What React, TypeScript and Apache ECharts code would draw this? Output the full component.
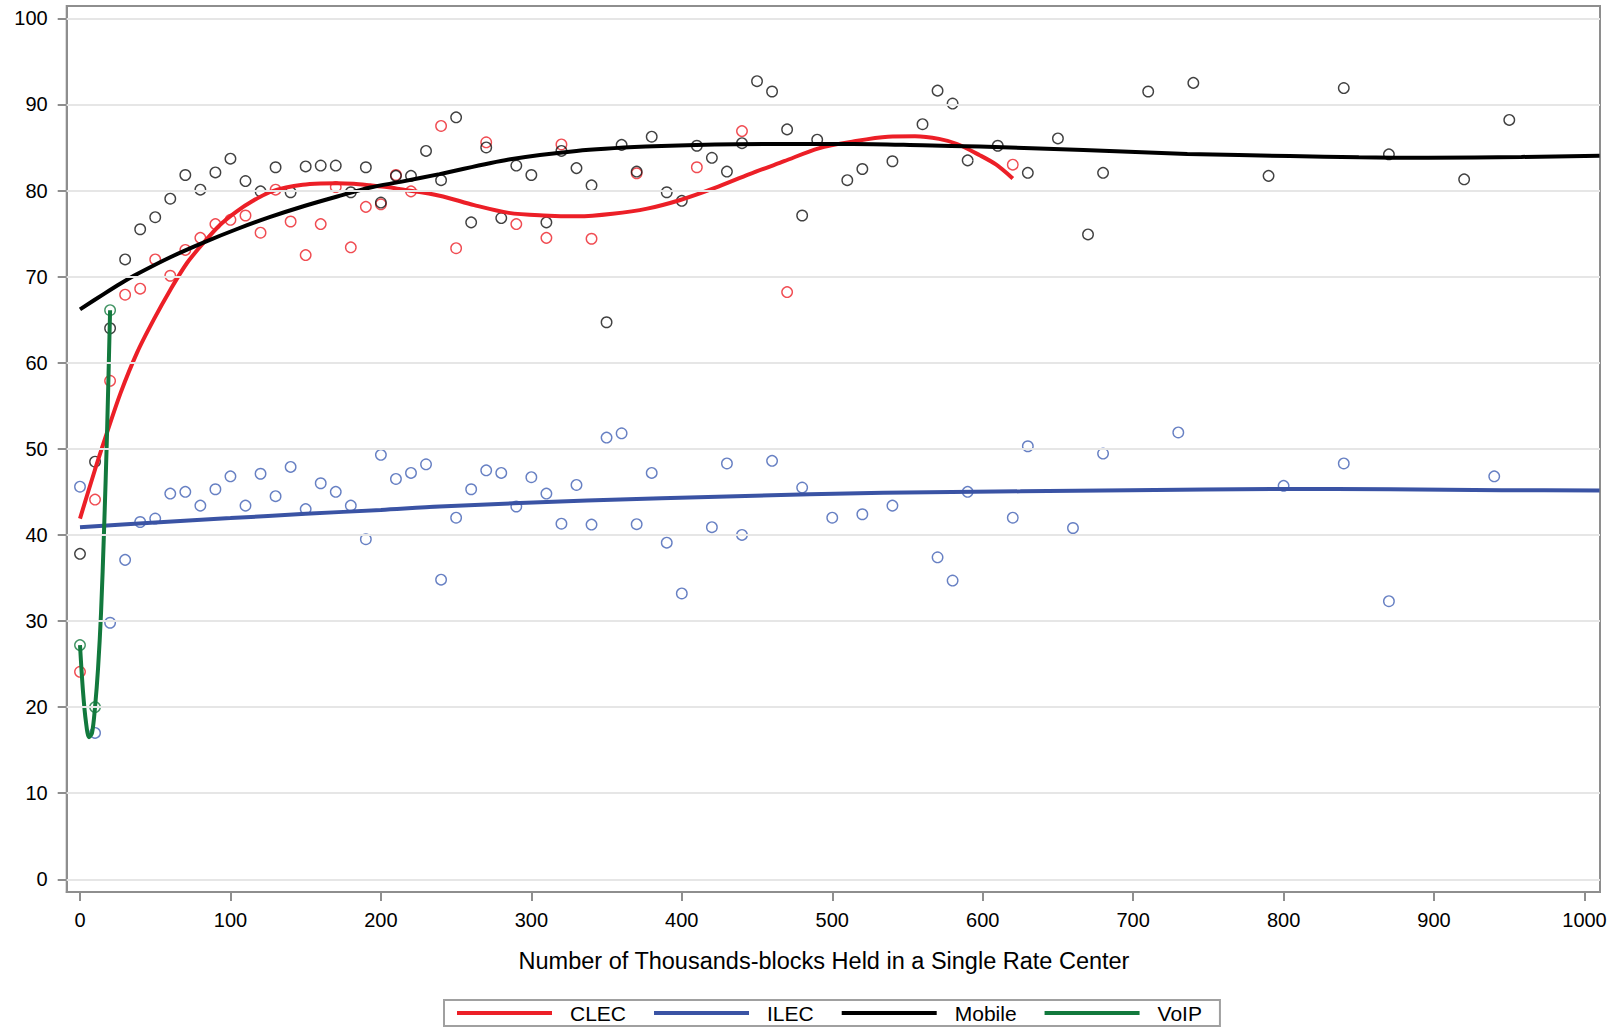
import React, { useEffect, useRef } from "react";
import * as echarts from "echarts";

// ---- tick labels ----
const xTicks = [0, 100, 200, 300, 400, 500, 600, 700, 800, 900, 1000];
const yTicks = [0, 10, 20, 30, 40, 50, 60, 70, 80, 90, 100];

// ---- observed points [thousands-blocks, value] ----
const clecPoints = [
  [0, 24.1], [10, 44.1], [20, 57.9], [30, 67.9], [40, 68.6], [50, 72.0], [60, 70.1], [70, 73.1],
  [80, 74.5], [90, 76.1], [100, 76.6], [110, 77.1], [120, 75.1], [130, 80.1], [140, 76.4],
  [150, 72.5], [160, 76.1], [170, 80.4], [180, 73.4], [190, 78.1], [200, 78.4], [210, 81.8],
  [220, 79.9], [240, 87.5], [250, 73.3], [270, 85.6], [290, 76.1], [310, 74.5], [320, 85.35],
  [340, 74.4], [370, 82.0], [410, 82.7], [440, 86.9], [470, 68.2], [620, 83.0],
];

const ilecPoints = [
  [0, 45.6], [10, 17.0], [20, 29.8], [30, 37.1], [40, 41.5], [50, 41.9], [60, 44.8], [70, 45.0],
  [80, 43.4], [90, 45.3], [100, 46.8], [110, 43.4], [120, 47.1], [130, 44.5], [140, 47.9],
  [150, 43.0], [160, 46.0], [170, 45.0], [180, 43.4], [190, 39.5], [200, 49.3], [210, 46.5],
  [220, 47.2], [230, 48.2], [240, 34.8], [250, 42.0], [260, 45.3], [270, 47.5], [280, 47.2],
  [290, 43.3], [300, 46.7], [310, 44.8], [320, 41.3], [330, 45.8], [340, 41.2], [350, 51.3],
  [360, 51.8], [370, 41.25], [380, 47.2], [390, 39.1], [400, 33.2], [420, 40.9], [430, 48.3],
  [440, 40.0], [460, 48.6], [480, 45.5], [500, 42.0], [520, 42.4], [540, 43.4], [570, 37.4],
  [580, 34.7], [590, 45.0], [620, 42.0], [630, 50.3], [660, 40.8], [680, 49.45], [730, 51.9],
  [800, 45.7], [840, 48.3], [870, 32.3], [940, 46.8],
];

const mobilePoints = [
  [0, 37.8], [10, 48.5], [20, 64.0], [30, 72.0], [40, 75.5], [50, 76.9], [60, 79.05], [70, 81.8],
  [80, 80.1], [90, 82.1], [100, 83.7], [110, 81.1], [120, 79.9], [130, 82.7], [140, 79.8],
  [150, 82.8], [160, 82.9], [170, 82.9], [180, 79.8], [190, 82.7], [200, 78.6], [210, 81.7],
  [220, 81.7], [230, 84.6], [240, 81.2], [250, 88.5], [260, 76.3], [270, 85.0], [280, 76.8],
  [290, 82.9], [300, 81.8], [310, 76.3], [320, 84.6], [330, 82.6], [340, 80.6], [350, 64.7],
  [360, 85.3], [370, 82.2], [380, 86.25], [390, 79.8], [400, 78.8], [410, 85.2], [420, 83.8],
  [430, 82.2], [440, 85.5], [450, 92.7], [460, 91.5], [470, 87.1], [480, 77.1], [490, 85.9],
  [510, 81.2], [520, 82.5], [540, 83.4], [560, 87.7], [570, 91.6], [580, 90.1], [590, 83.5],
  [610, 85.2], [630, 82.05], [650, 86.05], [670, 74.9], [680, 82.05], [710, 91.5], [740, 92.5],
  [790, 81.7], [840, 91.9], [870, 84.2], [920, 81.3], [950, 88.2],
];

const voipPoints = [[0, 27.2], [10, 20.0], [20, 66.1]];

// ---- fitted curves ----
const clecFit = [
  [0, 41.9], [10, 47.6], [18, 51.9], [27, 56.5], [38, 61.2], [49, 65.0], [60, 68.45], [71, 71.55],
  [82, 73.9], [93, 76.0], [104, 77.56], [115, 78.8], [126, 79.8], [137, 80.35], [148, 80.66],
  [160, 80.8], [171, 80.85], [182, 80.78], [193, 80.6], [204, 80.4], [213, 80.15], [239, 79.4],
  [262, 78.3], [285, 77.4], [308, 77.1], [331, 77.0], [354, 77.3], [377, 77.9], [399, 78.9],
  [422, 80.3], [445, 81.9], [468, 83.4], [491, 84.9], [514, 85.7], [537, 86.25], [555, 86.3],
  [571, 86.0], [583, 85.4], [598, 84.1], [609, 83.0], [620, 81.4],
];

const ilecFit = [
  [0, 40.9], [50, 41.45], [100, 41.95], [150, 42.45], [200, 42.9], [239, 43.3], [337, 44.0],
  [436, 44.5], [534, 44.9], [625, 45.06], [698, 45.2], [797, 45.33], [871, 45.3], [945, 45.2],
  [1010, 45.17],
];

const mobileFit = [
  [0, 66.2], [16, 68.0], [27, 69.2], [38, 70.3], [60, 72.25], [82, 73.95], [104, 75.5],
  [126, 76.9], [148, 78.14], [171, 79.3], [193, 80.35], [213, 81.0], [239, 81.9], [285, 83.6],
  [330, 84.6], [376, 85.1], [422, 85.35], [468, 85.4], [514, 85.4], [560, 85.25], [598, 85.1],
  [667, 84.7], [736, 84.25], [804, 84.0], [850, 83.85], [896, 83.8], [958, 83.9], [1010, 84.05],
];

const voipFit = [
  [0, 27.2], [2, 21.8], [4, 18.2], [6, 16.5], [8, 17.0], [10, 20.0], [12, 24.5], [14, 31.0],
  [16, 40.6], [18, 52.0], [20, 66.1],
];

const legendNames = ["CLEC", "ILEC", "Mobile", "VoIP"];
const xTitle = "Number of Thousands-blocks Held in a Single Rate Center";

const FONT = "'Liberation Sans', Arial, Helvetica, sans-serif";
const RED = "#ec1f27";
const BLUE = "#3a53a4";
const BLACK = "#000000";
const GREEN = "#12793d";
const AXIS = "#8e8e8e";

function scatter(name: string, data: number[][], color: string) {
  return {
    name,
    type: "scatter",
    data,
    symbol: "circle",
    symbolSize: 10.5,
    z: 3,
    itemStyle: { color: "rgba(0,0,0,0)", borderColor: color, borderWidth: 1.4 },
    emphasis: { disabled: true },
  };
}

function fit(name: string, data: number[][], color: string) {
  return {
    name,
    type: "line",
    data,
    smooth: 0.3,
    showSymbol: false,
    symbol: "none",
    z: 4,
    lineStyle: { color, width: 4 },
    itemStyle: { color },
    emphasis: { disabled: true },
  };
}

export default function App() {
  const ref = useRef<HTMLDivElement>(null);

  useEffect(() => {
    if (!ref.current) return;
    const chart = echarts.init(ref.current, null, { renderer: "svg" });
    const option = {
      animation: false,
      backgroundColor: "#ffffff",
      grid: {
        left: 66.7,
        top: 6,
        right: 20,
        bottom: 136,
        show: true,
        borderColor: AXIS,
        borderWidth: 2,
        backgroundColor: "transparent",
      },
      xAxis: {
        type: "value",
        min: -8.84,
        max: 1010.3,
        axisLine: { show: true, onZero: false, lineStyle: { color: AXIS, width: 2 } },
        axisTick: { show: true, length: 9, lineStyle: { color: AXIS, width: 2 }, customValues: xTicks },
        axisLabel: {
          customValues: xTicks,
          formatter: (v: number) => String(v),
          fontSize: 20,
          color: "#000",
          fontFamily: FONT,
          margin: 18,
        },
        splitLine: { show: false },
      },
      yAxis: {
        type: "value",
        min: -1.475,
        max: 101.43,
        axisLine: { show: true, onZero: false, lineStyle: { color: AXIS, width: 2 } },
        axisTick: { show: true, length: 9, lineStyle: { color: AXIS, width: 2 }, customValues: yTicks },
        axisLabel: {
          customValues: yTicks,
          formatter: (v: number) => String(v),
          fontSize: 20,
          color: "#000",
          fontFamily: FONT,
          margin: 19,
        },
        splitLine: { show: false },
      },
      legend: {
        data: legendNames,
        left: 444,
        top: 1000,
        orient: "horizontal",
        icon: "rect",
        itemWidth: 95,
        itemHeight: 4,
        itemGap: 28,
        padding: [2, 18, 2, 13],
        borderColor: "#a0a0a0",
        borderWidth: 2,
        selectedMode: false,
        textStyle: { fontSize: 21, color: "#000", fontFamily: FONT, padding: [0, 0, 0, 13], lineHeight: 22 },
      },
      graphic: [
        {
          type: "text",
          x: 824,
          y: 961,
          style: {
            text: xTitle,
            fill: "#000",
            font: `23.5px ${FONT}`,
            textAlign: "center",
            textVerticalAlign: "middle",
          },
        },
      ],
      series: [
        {
          name: "gridlines",
          type: "line",
          data: [],
          z: 1,
          silent: true,
          markLine: {
            silent: true,
            symbol: ["none", "none"],
            label: { show: false },
            lineStyle: { color: "#e6e6e6", width: 2, type: "solid" },
            data: yTicks.map((v) => ({ yAxis: v })),
          },
        },
        scatter("CLEC points", clecPoints, RED),
        scatter("ILEC points", ilecPoints, "#4160b4"),
        scatter("Mobile points", mobilePoints, "#111111"),
        scatter("VoIP points", voipPoints, GREEN),
        fit("CLEC", clecFit, RED),
        fit("ILEC", ilecFit, BLUE),
        fit("Mobile", mobileFit, BLACK),
        fit("VoIP", voipFit, GREEN),
      ],
    };
    chart.setOption(option as any);
    return () => chart.dispose();
  }, []);

  return (
    <div
      ref={ref}
      style={{ position: "absolute", left: 0, top: 0, width: 1620, height: 1028, background: "#fff" }}
    />
  );
}
